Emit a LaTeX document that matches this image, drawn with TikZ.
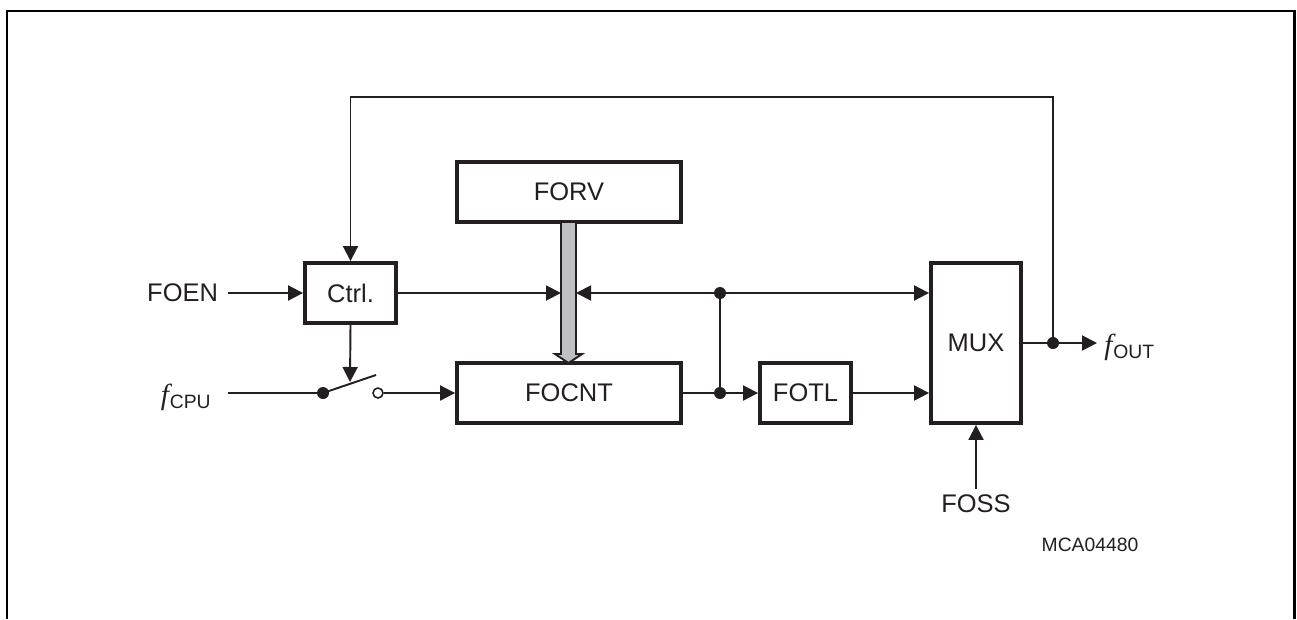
\documentclass[tikz,border=0pt]{standalone}
\usepackage{fontspec}
\setmainfont{Liberation Sans}
\newfontfamily\ltimes{Liberation Serif}
\usetikzlibrary{arrows.meta,positioning}
\definecolor{ink}{RGB}{35,31,32}
\definecolor{busgray}{RGB}{190,192,196}
% italic f with a sans subscript
\newcommand{\fsig}[1]{{\fontsize{16.5}{18}\selectfont\ltimes\itshape f}\kern0.5pt\raisebox{-2.5pt}{\fontsize{11}{12}\selectfont #1}}
\tikzset{
  blk/.style={draw=ink,line width=2.2pt,minimum height=1.2cm,inner sep=0pt},
  wire/.style={draw=ink,line width=1.1pt},
  sig/.style={wire,-{Triangle[length=0.3cm,width=0.3cm]}},
  frame/.style={draw=black,line width=1.7pt}
}

\begin{document}
\begin{tikzpicture}[x=0.02cm,y=-0.02cm,font=\fontsize{14.5}{17}\selectfont,text=ink]
\useasboundingbox (0,0) rectangle (1297,619);
\draw[frame] (7,619) -- (7,11) -- (1294,11) -- (1294,619);

% blocks
\node[blk,minimum width=1.82cm] (ctrl) at (350.5,293) {Ctrl.};
\node[blk,minimum width=4.48cm] (forv) at (569,192) {FORV};
\node[blk,minimum width=4.48cm] (focnt) at (569,393) {FOCNT};
\node[blk,minimum width=1.82cm] (fotl) at (805.5,393) {FOTL};
\node[blk,minimum width=1.8cm,minimum height=3.2cm] (mux) at (976,343) {MUX};

% labels
\node[anchor=east,inner xsep=5.5pt] (foen) at (228,293) {FOEN};
\node[anchor=east,inner xsep=0.34cm] (fcpu) at (228,397) {\fsig{CPU}};
\node[anchor=west,inner xsep=0.14cm] (fout) at (1097,347) {\fsig{OUT}};
\node (foss) at (976,504) {FOSS};
\node[font=\fontsize{11}{13}\selectfont] (code) at (1090,545) {MCA04480};

% bus from FORV
\filldraw[fill=busgray,draw=ink,line width=1.1pt] (561,222) -- (576,222) -- (576,354) -- (582,354)
  -- (568.5,363) -- (555,354) -- (561,354) -- cycle;
\coordinate (busl) at (561,293);
\coordinate (busr) at (576,293);

% junctions
\coordinate (j1) at (720,293);
\coordinate (j2) at (720,393);
\coordinate (j3) at (1053,343);
\coordinate (fb) at (1053,97);

% switch
\coordinate (swa) at (323,393);
\coordinate (swl) at (376,375);
\coordinate (swm) at (350,382);
\node[circle,draw=ink,line width=0.9pt,fill=white,inner sep=0pt,minimum size=0.2cm] (swb) at (378,393) {};

% connections
\draw[sig] (foen) -- (ctrl);
\draw[sig] (ctrl.east) -- (busl);
\draw[sig] (j1) -- (busr);
\draw[sig] (j1) -- (j1 -| mux.west);
\draw[wire] (j1) -- (j2);
\draw[wire] (focnt.east) -- (j2);
\draw[sig] (j2) -- (fotl.west);
\draw[sig] (fotl.east) -- (fotl.east -| mux.west);
\draw[wire] (mux.east |- j3) -- (j3);
\draw[sig] (j3) -- (fout.west |- j3);
\draw[sig] (j3) -- (fb) -| (ctrl.north);
\draw[sig] (foss) -- (mux.south);
\draw[wire] (fcpu.east |- swa) -- (swa);
\draw[wire] (swa) -- (swl);
\draw[sig] (swb) -- (focnt.west);
\draw[sig] (ctrl.south) -- (swm);

\foreach \j in {j1,j2,j3,swa}{\fill[ink] (\j) circle (0.12cm);}
\end{tikzpicture}
\end{document}
